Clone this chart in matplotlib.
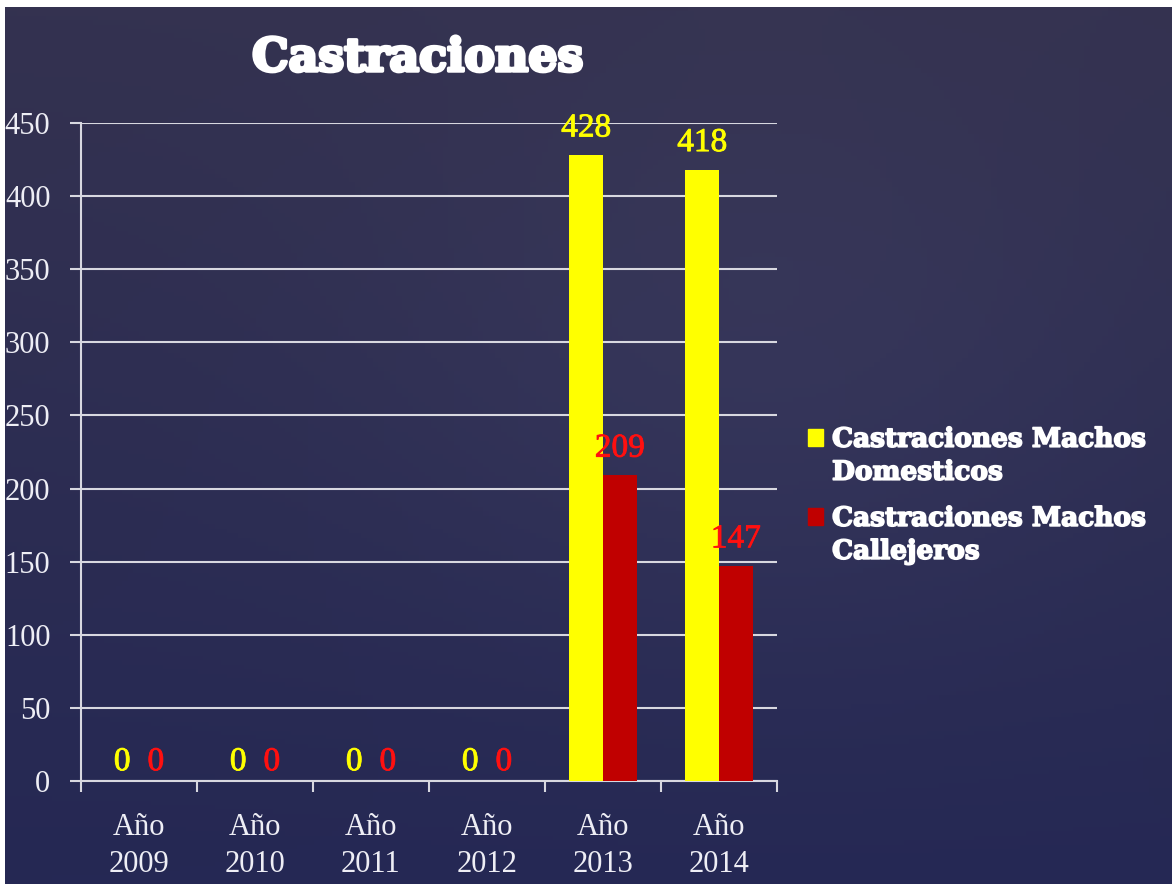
import numpy as np
import matplotlib
matplotlib.use('Agg')
import matplotlib.pyplot as plt
import matplotlib.patheffects as pe
from matplotlib.patches import Patch, Rectangle
from matplotlib.legend_handler import HandlerPatch

# data
years = ['Año\n2009', 'Año\n2010', 'Año\n2011', 'Año\n2012', 'Año\n2013', 'Año\n2014']
domesticos = [0, 0, 0, 0, 428, 418]
callejeros = [0, 0, 0, 0, 209, 147]
series_names = ['Castraciones Machos\nDomesticos', 'Castraciones Machos\nCallejeros']

yellow = '#ffff00'
dark_red = '#c00000'
label_red = '#ff1010'
txt = '#eeeef5'

fig = plt.figure(figsize=(11.72, 8.84), dpi=100, facecolor='white')

# background with soft gradient
bg = fig.add_axes([5/1172, 0, 1 - 5/1172, 1 - 7/884])
bg.set_axis_off()
yy, xx = np.mgrid[0:1:200j, 0:1:200j]
top = np.array([0x34, 0x32, 0x50]) / 255
bot = np.array([0x25, 0x28, 0x54]) / 255
grad = top[None, None, :] * (1 - yy[..., None]) + bot[None, None, :] * yy[..., None]
glow = np.exp(-(((xx - 0.65) / 0.35) ** 2 + ((yy - 0.4) / 0.35) ** 2))
grad = np.clip(grad + 0.03 * glow[..., None], 0, 1)
bg.imshow(grad, aspect='auto', extent=[0, 1, 0, 1], origin='upper')

ax = fig.add_axes([81/1172, 103/884, 696/1172, 658/884])
ax.patch.set_alpha(0)

x = np.arange(len(years))
w = 0.29
ax.bar(x - w/2, domesticos, w, color=yellow, zorder=3, label=series_names[0])
ax.bar(x + w/2, callejeros, w, color=dark_red, zorder=3, label=series_names[1])

for vals, off, col in [(domesticos, -w/2, yellow), (callejeros, w/2, label_red)]:
    for xi, v in zip(x, vals):
        if v == 0:
            ax.text(xi + off, 13, str(v), color=col, fontsize=24, family='Liberation Serif',
                    ha='center', va='center', zorder=4,
                    path_effects=[pe.withStroke(linewidth=0.6, foreground=col)])
        else:
            ax.text(xi + off, v + 8, str(v), color=col, fontsize=24, family='Liberation Serif',
                    ha='center', va='bottom', zorder=4,
                    path_effects=[pe.withStroke(linewidth=0.6, foreground=col)])

ax.set_xlim(-0.5, len(years) - 0.5)
ax.set_ylim(0, 450)
ax.set_yticks(np.arange(0, 451, 50))
ax.yaxis.grid(True, color='#d8d8e0', linewidth=1.5, zorder=0)
ax.set_axisbelow(True)

ax.set_xticks(x)
ax.set_xticklabels(years, linespacing=1.35)
ax.set_xticks(np.arange(-0.5, len(years)), minor=True)
ax.tick_params(axis='x', which='major', length=0, pad=23, labelsize=22, labelcolor=txt)
ax.tick_params(axis='x', which='minor', length=8, width=1.5, color='#d8d8e0', direction='out')
ax.tick_params(axis='y', length=8, width=1.5, color='#d8d8e0', pad=14, labelsize=22, labelcolor=txt)
for lab in ax.get_xticklabels() + ax.get_yticklabels():
    lab.set_family('Liberation Serif')

for s in ['top', 'right']:
    ax.spines[s].set_visible(False)
for s in ['left', 'bottom']:
    ax.spines[s].set_color('#d8d8e0')
    ax.spines[s].set_linewidth(1.5)

fig.text(418/1172, 1 - 58/884, 'Castraciones', color='white', fontsize=33,
         fontweight='bold', family='DejaVu Serif', ha='center', va='center',
         path_effects=[pe.withStroke(linewidth=2.5, foreground='white')])


def top_square(legend, orig_handle, xdescent, ydescent, width, height, fontsize):
    return Rectangle((-xdescent, -ydescent + 0.72 * fontsize), width, height)


handles = [Patch(color=yellow), Patch(color=dark_red)]
leg = fig.legend(handles, series_names, loc='upper left', bbox_to_anchor=(784/1172, 1 - 403/884),
                 frameon=False, handlelength=0.57, handleheight=0.57, handletextpad=0.35,
                 labelspacing=0.8, prop={'family': 'DejaVu Serif', 'weight': 'bold', 'size': 19},
                 handler_map={Patch: HandlerPatch(patch_func=top_square)})
for t in leg.get_texts():
    t.set_color('white')
    t.set_linespacing(1.4)
    t.set_path_effects([pe.withStroke(linewidth=1.2, foreground='white')])

fig.savefig('out.png', dpi=100, facecolor=fig.get_facecolor())
